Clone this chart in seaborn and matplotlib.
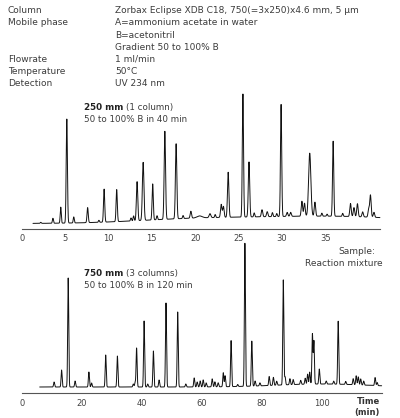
import numpy as np
import pandas as pd
import seaborn as sns
import matplotlib.pyplot as plt
from matplotlib.transforms import offset_copy

# Method block
header_labels = ['Column', 'Mobile phase', '', '', 'Flowrate', 'Temperature', 'Detection']
header_values = ['Zorbax Eclipse XDB C18, 750(=3x250)x4.6 mm, 5 µm',
                 'A=ammonium acetate in water', 'B=acetonitril', 'Gradient 50 to 100% B',
                 '1 ml/min', '50°C', 'UV 234 nm']

# 250 mm column: retention time (min), peak height, peak sigma (min)
top_rt = [2.2, 3.6, 4.5, 5.2, 6.0, 7.6, 8.9, 9.5, 10.95, 12.6, 12.9, 13.3, 14.0, 15.1, 15.6,
          16.5, 17.8, 18.6, 19.5, 20.5, 21.7, 22.3, 23.0, 23.25, 23.8, 25.5, 26.2, 26.8,
          27.7, 28.3, 28.9, 29.4, 29.9, 30.6, 31.0, 32.3, 32.6, 33.2, 33.8, 34.6, 35.2,
          35.9, 37.0, 37.9, 38.3, 38.7, 39.3, 40.0, 40.2, 40.6]
top_height = [1, 5, 16, 104, 6, 15, 2, 33, 32, 3, 5, 39, 58, 36, 4,
              88, 75, 3, 7, 2, 4, 3, 13, 11, 45, 123, 55, 4,
              7, 5, 4, 3, 112, 4, 4, 15, 13, 63, 14, 3, 2,
              75, 3, 13, 9, 13, 5, 8, 22, 5]
top_width = [0.06, 0.06, 0.06, 0.07, 0.06, 0.07, 0.06, 0.07, 0.07, 0.06, 0.06, 0.08, 0.09, 0.07, 0.06,
             0.08, 0.08, 0.06, 0.08, 0.3, 0.1, 0.06, 0.08, 0.08, 0.08, 0.07, 0.08, 0.06,
             0.08, 0.08, 0.06, 0.06, 0.07, 0.08, 0.08, 0.08, 0.08, 0.13, 0.08, 0.06, 0.06,
             0.07, 0.06, 0.08, 0.08, 0.08, 0.08, 0.08, 0.08, 0.08]
# slow baseline rise of the gradient
top_drift_rt = [20, 36]
top_drift_height = [4, 7]
top_drift_width = [7, 9]
top_offset = 1.5
top_start, top_end = 1.3, 41.3
top_ticks = [0, 5, 10, 15, 20, 25, 30, 35]

# 750 mm (3 columns)
bottom_rt = [10.8, 13.3, 15.5, 17.8, 22.4, 23.3, 28.0, 31.9, 37.2, 37.8, 38.3, 40.8, 42.0,
             43.9, 45.8, 48.1, 52.0, 54.7, 57.5, 58.5, 59.5, 60.5, 61.5, 63.5, 64.4, 65.5,
             67.2, 67.8, 69.8, 72.0, 74.4, 76.7, 77.8, 79.4, 82.5, 83.9, 85.0, 87.2, 87.8,
             89.4, 90.5, 93.0, 94.5, 95.3, 96.0, 96.9, 97.4, 99.2, 101.5, 104.0, 105.5,
             108.0, 110.5, 111.5, 112.2, 113.0, 114.0, 117.8, 118.5]
bottom_height = [5, 17, 109, 6, 15, 4, 32, 31, 3, 4, 39, 66, 3,
                 36, 7, 84, 75, 3, 9, 5, 6, 7, 4, 8, 5, 4,
                 14, 11, 46, 2, 143, 45, 5, 3, 9, 8, 4, 105, 8,
                 6, 5, 4, 6, 10, 12, 50, 43, 15, 3, 3, 63,
                 3, 6, 9, 8, 6, 4, 8, 3]
bottom_sigma = 0.17
bottom_drift_rt = [100]
bottom_drift_height = [3]
bottom_drift_width = [15]
bottom_start, bottom_end = 6.0, 120.0
bottom_ticks = [0, 20, 40, 60, 80, 100]


def trace(t, rts, heights, widths):
    y = np.zeros_like(t)
    for r, h, w in zip(rts, heights, widths):
        y += h * np.exp(-0.5 * ((t - r) / w) ** 2)
    return y


t1 = np.arange(top_start, top_end, 0.01)
y1 = top_offset + trace(t1, top_rt, top_height, top_width) \
    + trace(t1, top_drift_rt, top_drift_height, top_drift_width)
df_top = pd.DataFrame({'t': t1, 'signal': y1})

t2 = np.arange(bottom_start, bottom_end, 0.02)
y2 = trace(t2, bottom_rt, bottom_height, [bottom_sigma] * len(bottom_rt)) \
    + trace(t2, bottom_drift_rt, bottom_drift_height, bottom_drift_width)
df_bottom = pd.DataFrame({'t': t2, 'signal': y2})

sns.set_theme(style='white')
plt.rcParams['font.family'] = ['DejaVu Sans']

W, H = 400, 418
fig = plt.figure(figsize=(4, 4.18), dpi=100)


def px(x, y):
    return x / W, 1 - y / H


txt = '#3c3c3c'

# header
for i, (lab, val) in enumerate(zip(header_labels, header_values)):
    yy = 10.7 + i * 12.2
    fig.text(*px(8, yy), lab, fontsize=6.5, color=txt, va='center')
    fig.text(*px(115, yy), val, fontsize=6.5, color=txt, va='center')


def panel(rect, df, xmax, ylim, ticks, pad):
    l, r, top, bot = rect
    ax = fig.add_axes([l / W, 1 - bot / H, (r - l) / W, (bot - top) / H])
    sns.lineplot(data=df, x='t', y='signal', ax=ax, color='#111111', lw=0.7,
                 estimator=None, sort=False)
    for line in ax.lines:
        line.set_clip_on(False)
    ax.set_xlim(0, xmax)
    ax.set_ylim(*ylim)
    ax.set_xticks(ticks)
    ax.set_xticklabels([str(v) for v in ticks])
    ax.set_yticks([])
    ax.set_xlabel('')
    ax.set_ylabel('')
    ax.tick_params(axis='x', length=0, pad=pad, labelsize=6, labelcolor='#444444')
    sns.despine(ax=ax, left=True, top=True, right=True)
    ax.spines['bottom'].set_color('#555555')
    ax.spines['bottom'].set_linewidth(0.8)
    ax.patch.set_alpha(0)
    return ax


panel((21.7, 380, 95, 229), df_top, top_end, (-4, 130), top_ticks, 3.3)
panel((21.7, 381.7, 243, 393), df_bottom, bottom_end, (-6, 144), bottom_ticks, 4.5)

renderer = fig.canvas.get_renderer()


def run_label(y, bold, rest, line2):
    b = fig.text(*px(84, y), bold, fontsize=6.3, fontweight='bold', color='#222222', va='center')
    w = b.get_window_extent(renderer).width
    fig.text(*px(84 + w + 3, y), rest, fontsize=6.3, color=txt, va='center')
    fig.text(*px(84, y + 12), line2, fontsize=6.3, color=txt, va='center')


run_label(107.5, '250 mm', '(1 column)', '50 to 100% B in 40 min')
run_label(273.3, '750 mm', '(3 columns)', '50 to 100% B in 120 min')

fig.text(*px(375, 251.7), 'Sample:', fontsize=6.5, color=txt, va='center', ha='right')
fig.text(*px(383, 263.3), 'Reaction mixture', fontsize=6.5, color=txt, va='center', ha='right')

fig.text(*px(380, 401.7), 'Time', fontsize=6, fontweight='bold', color='#333333', va='center', ha='right')
fig.text(*px(380, 412), '(min)', fontsize=6, fontweight='bold', color='#333333', va='center', ha='right')

fig.savefig('out.png', dpi=100)
